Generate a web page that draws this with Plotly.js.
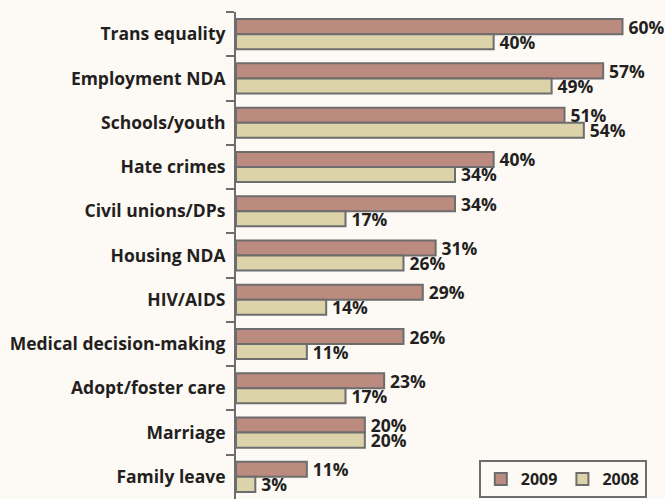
<!DOCTYPE html>
<html><head><meta charset="utf-8">
<script src="https://cdn.plot.ly/plotly-3.0.1.min.js"></script>
<style>html,body{margin:0;padding:0;background:#fdf9f5;}#chart{width:665px;height:499px;}</style>
</head><body><div id="chart"></div>
<script>
const categories = ["Trans equality","Employment NDA","Schools/youth","Hate crimes","Civil unions/DPs","Housing NDA","HIV/AIDS","Medical decision-making","Adopt/foster care","Marriage","Family leave"];
const values2009 = [60,57,51,40,34,31,29,26,23,20,11];
const values2008 = [40,49,54,34,17,26,14,11,17,20,3];
const seriesNames = ["2009","2008"];

const fam = "'Open Sans', sans-serif";
const labelFont = {family:fam, size:17.5, color:"#231f20", weight:"bold"};
const valueFont = {family:fam, size:17.5, color:"#231f20", weight:"bold"};
const legendFont = {family:fam, size:16, color:"#231f20", weight:"bold"};
const lineStyle = {color:"#6d6d6d", width:2};
function mk(name, vals, color){
  return {type:"bar", orientation:"h", name:name, y:categories, x:vals,
    text: vals.map(v=>"\u2009"+v+"%"), textposition:"outside", constraintext:"none", cliponaxis:false,
    textfont:valueFont, marker:{color:color, line:lineStyle}, hoverinfo:"none"};
}
const data = [mk(seriesNames[0], values2009, "#bc8b7f"), mk(seriesNames[1], values2008, "#ddd3aa")];
const layout = {
  width:665, height:499, margin:{l:236,r:0,t:12,b:0},
  paper_bgcolor:"#fdf9f5", plot_bgcolor:"#fdf9f5",
  barmode:"group", bargap:0.32, bargroupgap:0,
  font:labelFont, showlegend:true,
  xaxis:{range:[0,66.6], visible:false, fixedrange:true},
  yaxis:{autorange:"reversed", type:"category", tickson:"boundaries", ticks:"outside", ticklen:8, tickwidth:2, tickcolor:"#6d6d6d",
    showline:true, linecolor:"#6d6d6d", linewidth:2, showgrid:false, zeroline:false, ticklabelstandoff:5, tickfont:labelFont},
  legend:{orientation:"h", x:0.566, y:0.08, xanchor:"left", yanchor:"top", bgcolor:"#fdf9f5", bordercolor:"#6d6d6d", borderwidth:2,
    font:legendFont, traceorder:"normal", itemwidth:30}
};
Plotly.newPlot("chart", data, layout, {displayModeBar:false, staticPlot:true});
</script></body></html>
